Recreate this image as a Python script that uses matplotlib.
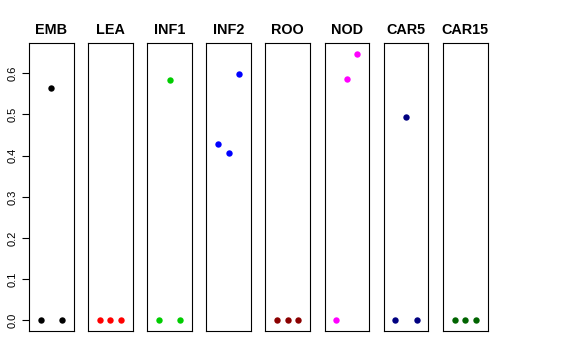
import matplotlib.pyplot as plt
import numpy as np

plt.rcParams['font.family'] = ['Liberation Sans', 'DejaVu Sans']

tissues = ['EMB', 'LEA', 'INF1', 'INF2', 'ROO', 'NOD', 'CAR5', 'CAR15']
colours = ['#000000', '#FF0000', '#00CD00', '#0000FF',
           '#8B0000', '#FF00FF', '#000080', '#006400']
xs = [1, 2, 3]
values = {
    'EMB':   [0.0, 0.565, 0.0],
    'LEA':   [0.0, 0.0, 0.0],
    'INF1':  [0.0, 0.584, 0.0],
    'INF2':  [0.429, 0.406, 0.598],
    'ROO':   [0.0, 0.0, 0.0],
    'NOD':   [0.0, 0.586, 0.647],
    'CAR5':  [0.0, 0.495, 0.0],
    'CAR15': [0.0, 0.0, 0.0],
}
yticks = [0.0, 0.1, 0.2, 0.3, 0.4, 0.5, 0.6]
ytick_labels = ['0.0', '0.1', '0.2', '0.3', '0.4', '0.5', '0.6']

W, H = 576, 360
fig = plt.figure(figsize=(W / 100, H / 100), dpi=100)

left0, step, width = 29, 59.1, 44.8
top, bottom = 43.3, 331

ymax = max(max(v) for v in values.values())
pad = 0.04 * ymax

for i, name in enumerate(tissues):
    ax = fig.add_axes([(left0 + i * step) / W, (H - bottom) / H,
                       width / W, (bottom - top) / H])
    ax.plot(xs, values[name], 'o', color=colours[i], markersize=4.6,
            markeredgewidth=0)
    ax.set_xlim(2 - 2.12, 2 + 2.12)
    ax.set_ylim(-pad, ymax + pad)
    ax.set_xticks([])
    for s in ax.spines.values():
        s.set_linewidth(0.8)
        s.set_color('black')
    ax.set_title(name, fontsize=10.4, fontweight='bold', pad=6.5)
    if i == 0:
        ax.set_yticks(yticks)
        ax.set_yticklabels(ytick_labels)
        ax.tick_params(axis='y', length=5, width=0.8, pad=3.2,
                       labelsize=8, labelrotation=90)
        for lab in ax.get_yticklabels():
            lab.set_va('center')
    else:
        ax.set_yticks([])

fig.savefig('out.png', dpi=100)
